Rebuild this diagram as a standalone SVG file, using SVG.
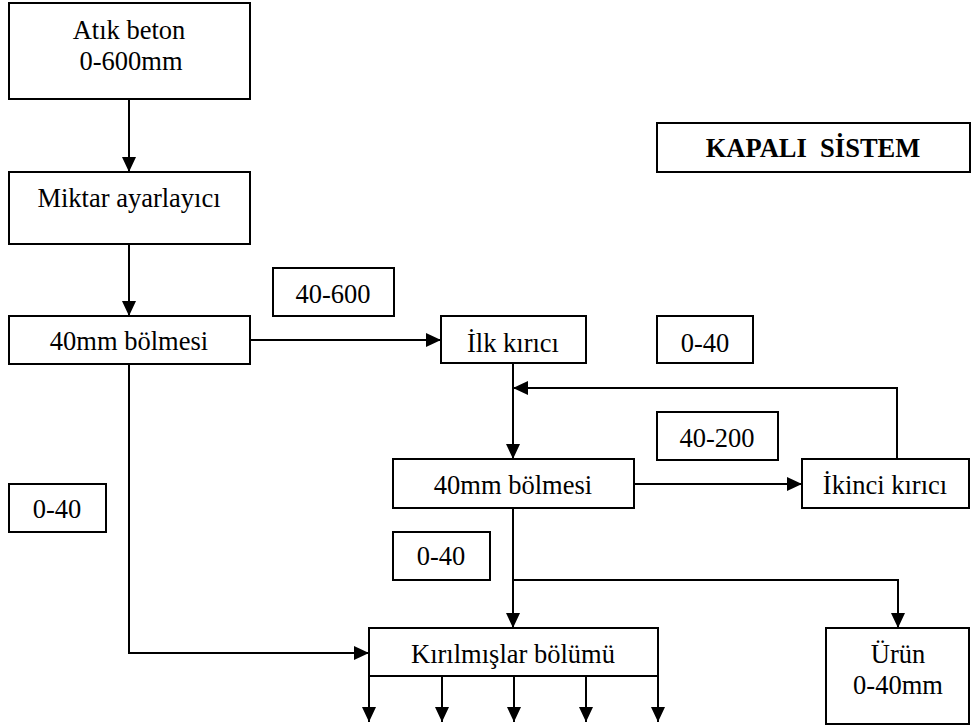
<svg xmlns="http://www.w3.org/2000/svg" width="975" height="728" viewBox="0 0 975 728" font-family="Liberation Serif, Times New Roman, serif" font-size="26.5">
<style>
rect{fill:#fff;stroke:#000;stroke-width:2}
text{fill:#000;text-anchor:middle}
.b{font-weight:bold;white-space:pre}
.c{fill:none;stroke:#000;stroke-width:2}
</style>
<defs>
<marker id="ah" viewBox="0 0 15 14" refX="15" refY="7" markerWidth="15" markerHeight="14" markerUnits="userSpaceOnUse" orient="auto">
<path d="M0,0 L15,7 L0,14 z" fill="#000"/>
</marker>
</defs>
<rect width="975" height="728" style="stroke:none;fill:#fff"/>
<g id="connectors" class="c" marker-end="url(#ah)">
<path d="M129,99 V172"/>
<path d="M129,244 V316"/>
<path d="M250,340 H441"/>
<path d="M513,363 V459"/>
<path d="M897,459 V388 H513"/>
<path d="M634,484 H802"/>
<path d="M129,364 V653 H369"/>
<path d="M513,508 V628"/>
<path d="M513,580 H898 V628"/>
<path d="M369,676 V722"/>
<path d="M442,676 V722"/>
<path d="M514,676 V722"/>
<path d="M586,676 V722"/>
<path d="M658,676 V722"/>
</g>
<g id="atik"><rect x="9" y="3" width="241" height="96"/><text x="129" y="39">Atık beton</text><text x="131" y="70">0-600mm</text></g>
<g id="miktar"><rect x="9" y="172" width="241" height="72"/><text x="129" y="207">Miktar ayarlayıcı</text></g>
<g id="bolme1"><rect x="9" y="316" width="241" height="48"/><text x="129" y="350">40mm bölmesi</text></g>
<g id="lbl40600"><rect x="273" y="268" width="121" height="48"/><text x="333" y="303">40-600</text></g>
<g id="ilk"><rect x="441" y="316" width="145" height="47"/><text x="513" y="352">İlk kırıcı</text></g>
<g id="lbl040a"><rect x="657" y="316" width="96" height="47"/><text x="705" y="352">0-40</text></g>
<g id="kapali"><rect x="657" y="123" width="313" height="49"/><text class="b" x="813" y="157">KAPALI  SİSTEM</text></g>
<g id="lbl40200"><rect x="657" y="412" width="121" height="48"/><text x="717" y="447">40-200</text></g>
<g id="bolme2"><rect x="393" y="459" width="241" height="49"/><text x="513" y="494">40mm bölmesi</text></g>
<g id="ikinci"><rect x="802" y="459" width="167" height="49"/><text x="885" y="494">İkinci kırıcı</text></g>
<g id="lbl040b"><rect x="9" y="484" width="97" height="48"/><text x="57" y="518">0-40</text></g>
<g id="lbl040c"><rect x="393" y="532" width="97" height="48"/><text x="441" y="565">0-40</text></g>
<g id="kirilmis"><rect x="369" y="628" width="289" height="48"/><text x="513" y="663">Kırılmışlar bölümü</text></g>
<g id="urun"><rect x="826" y="628" width="143" height="96"/><text x="898" y="663">Ürün</text><text x="898" y="694">0-40mm</text></g>
</svg>
